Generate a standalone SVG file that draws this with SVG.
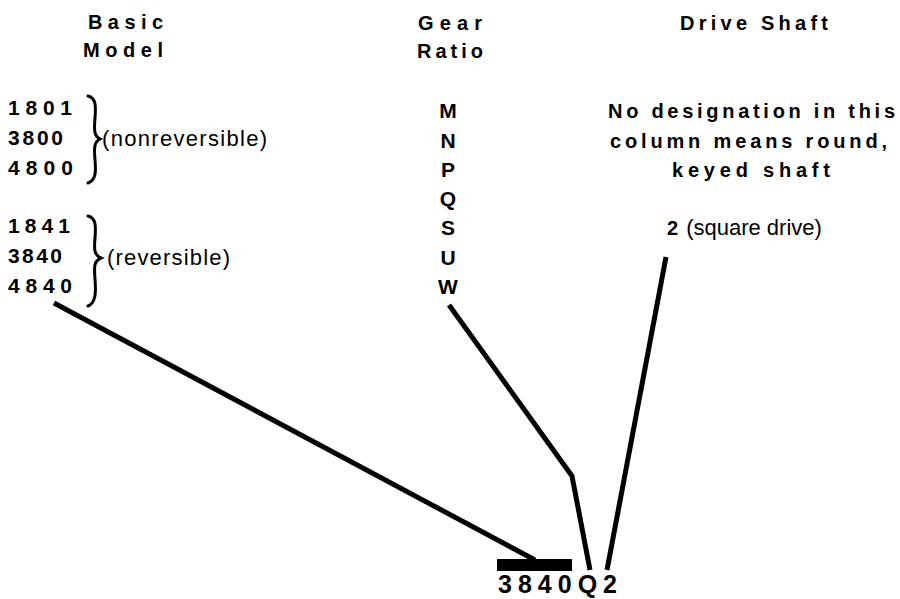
<svg xmlns="http://www.w3.org/2000/svg" width="900" height="599" viewBox="0 0 900 599">
<style>
text{font-family:"Liberation Sans",Arial,Helvetica,sans-serif;fill:#000}
.h{font-size:20px;font-weight:bold}
.n{font-size:21px;font-weight:bold}
.g{font-size:21px;font-weight:bold;text-anchor:middle}
.l{font-size:22px}
.d{font-size:20px;font-weight:bold}
.c{fill:none;stroke:#000;stroke-width:5;stroke-linejoin:round}
.b{fill:none;stroke:#000;stroke-width:3;stroke-linecap:round}
</style>
<rect width="900" height="599" fill="#fff"/>
<g id="headers">
<text class="h" x="88" y="29" textLength="75">Basic</text>
<text class="h" x="83" y="57" textLength="80">Model</text>
<text class="h" x="418" y="30" textLength="64">Gear</text>
<text class="h" x="417" y="58" textLength="66">Ratio</text>
<text class="h" x="680" y="30" textLength="148">Drive Shaft</text>
</g>
<g id="nonreversible">
<text class="n" x="8" y="115" textLength="64">1801</text>
<text class="n" x="8" y="145" textLength="55">3800</text>
<text class="n" x="8" y="175" textLength="65">4800</text>
<path class="b" d="M88,96 C96,98 96,106 95,118 C94,130 94,136 100,139 C94,142 94,148 95,160 C96,172 96,180 88,183"/>
<text class="l" x="102" y="146" textLength="165">(nonreversible)</text>
</g>
<g id="reversible">
<text class="n" x="8" y="233" textLength="62">1841</text>
<text class="n" x="8" y="263" textLength="54">3840</text>
<text class="n" x="8" y="293" textLength="64">4840</text>
<path class="b" d="M88,216 C96,218 96,226 95,238 C94,250 94,255 101,258 C94,261 94,266 95,279 C96,292 96,303 88,306"/>
<text class="l" x="107" y="265" textLength="123">(reversible)</text>
</g>
<g id="gear-ratio">
<text class="g" x="448" y="118">M</text>
<text class="g" x="448" y="148">N</text>
<text class="g" x="448" y="177">P</text>
<text class="g" x="448" y="206">Q</text>
<text class="g" x="448" y="235">S</text>
<text class="g" x="448" y="265">U</text>
<text class="g" x="448" y="294">W</text>
</g>
<g id="drive-shaft">
<text class="d" x="608" y="118" textLength="287">No designation in this</text>
<text class="d" x="610" y="148" textLength="277">column means round,</text>
<text class="d" x="672" y="177" textLength="158">keyed shaft</text>
<text x="667" y="235"><tspan class="d">2</tspan><tspan class="l" dx="8" font-size="21">(square drive)</tspan></text>
</g>
<g id="connectors">
<line class="c" x1="54" y1="303" x2="535" y2="560"/>
<polyline class="c" points="449,305 572,476 590,570"/>
<line class="c" x1="666" y1="257" x2="607" y2="570"/>
</g>
<g id="result">
<rect x="497" y="559" width="75" height="12" fill="#000"/>
<text x="498" y="593" font-size="25" font-weight="bold" textLength="119">3840Q2</text>
</g>
</svg>
